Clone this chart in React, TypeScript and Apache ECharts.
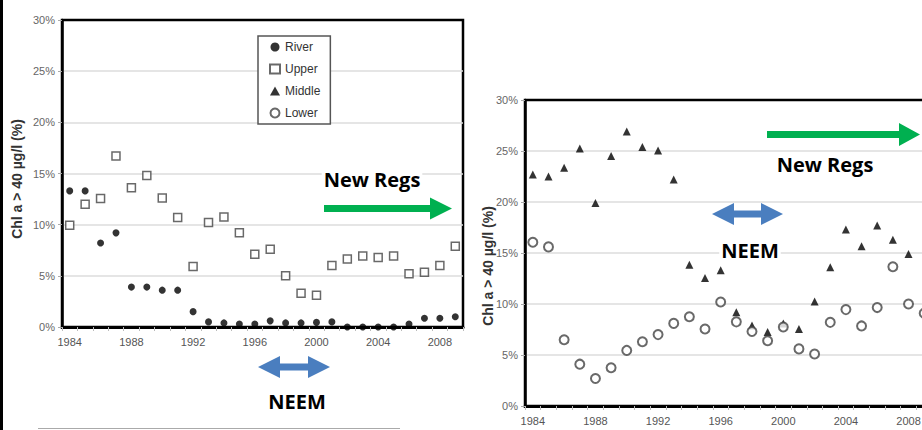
import React, { useEffect, useRef } from "react";
import * as echarts from "echarts";

const years = ["1984","1985","1986","1987","1988","1989","1990","1991","1992","1993","1994","1995","1996","1997","1998","1999","2000","2001","2002","2003","2004","2005","2006","2007","2008","2009"];
const yTicks = [0, 5, 10, 15, 20, 25, 30];

const riverValues = [13.3, 13.3, 8.2, 9.2, 3.9, 3.9, 3.6, 3.6, 1.5, 0.5, 0.4, 0.3, 0.3, 0.6, 0.4, 0.4, 0.45, 0.5, 0, 0, 0, 0, 0.3, 0.85, 0.85, 1.0];
const upperValues = [9.95, 12.0, 12.55, 16.7, 13.6, 14.8, 12.6, 10.7, 5.9, 10.2, 10.75, 9.2, 7.1, 7.6, 5.0, 3.3, 3.1, 6.0, 6.65, 6.95, 6.8, 6.95, 5.2, 5.35, 6.0, 7.9];
const middleValues = [22.7, 22.5, 23.35, 25.25, 19.9, 24.5, 26.9, 25.4, 25.05, 22.2, 13.85, 12.55, 13.3, 9.2, 7.9, 7.25, 8.1, 7.55, 10.25, 13.6, 17.3, 15.65, 17.7, 16.3, 14.9, null];
const lowerValues = [16.05, 15.6, 6.5, 4.1, 2.7, 3.75, 5.45, 6.3, 7.0, 8.1, 8.75, 7.55, 10.2, 8.25, 7.3, 6.4, 7.75, 5.6, 5.1, 8.2, 9.45, 7.85, 9.65, 13.65, 10.0, 9.1];

const seriesNames = ["River", "Upper", "Middle", "Lower"];
const yAxisTitle = "Chl a > 40 µg/l (%)";
const annoNewRegs = "New Regs";
const annoNeem = "NEEM";

const FONT = "'Liberation Sans', Arial, sans-serif";
const BOLD_FONT = "'Open Sans', 'Noto Sans', sans-serif";
const GREEN = "#00b050";
const BLUE = "#4a7ebf";

function rightArrow(x0: number, x1: number, headX: number, cy: number, shaft: number, head: number) {
  return [
    [x0, cy - shaft / 2], [headX, cy - shaft / 2], [headX, cy - head / 2], [x1, cy],
    [headX, cy + head / 2], [headX, cy + shaft / 2], [x0, cy + shaft / 2],
  ];
}
function doubleArrow(x0: number, x1: number, h0: number, h1: number, cy: number, shaft: number, head: number) {
  return [
    [x0, cy], [h0, cy - head / 2], [h0, cy - shaft / 2], [h1, cy - shaft / 2], [h1, cy - head / 2],
    [x1, cy], [h1, cy + head / 2], [h1, cy + shaft / 2], [h0, cy + shaft / 2], [h0, cy + head / 2],
  ];
}

export default function App() {
  const ref = useRef<HTMLDivElement>(null);
  useEffect(() => {
    if (!ref.current) return;
    const chart = echarts.init(ref.current, null, { renderer: "svg" });
    const xAxisBase = (gridIndex: number) => ({
      type: "category",
      gridIndex,
      data: years,
      boundaryGap: true,
      axisLine: { show: true, lineStyle: { color: "#000", width: 3 } },
      axisTick: { show: true, interval: 0, length: 4, lineStyle: { color: "#bbb" } },
      axisLabel: { interval: 3, color: "#555", fontSize: 11, fontFamily: FONT, margin: 9 },
      splitLine: { show: false },
    });
    const yAxisBase = (gridIndex: number) => ({
      type: "value",
      gridIndex,
      min: 0,
      max: 30,
      interval: 5,
      axisLine: { show: true, lineStyle: { color: "#000", width: 2.5 } },
      axisTick: { show: true, length: 4, lineStyle: { color: "#aaa" } },
      axisLabel: { color: "#666", fontSize: 11, fontFamily: FONT, margin: 7, formatter: (v: number) => v + "%" },
      splitLine: { show: true, showMaxLine: false, showMinLine: false, lineStyle: { color: "#dcdcdc", width: 1.5 } },
    });
    const boldText = (x: number, y: number, text: string, align: string) => ({
      type: "text", x, y, z: 10,
      style: {
        text, font: `bold 20px ${BOLD_FONT}`, fill: "#000", verticalAlign: "middle", align,
        backgroundColor: "#fff", padding: [0, 2],
      },
    });
    const graphics: any[] = [
      { type: "rect", shape: { x: 0, y: 0, width: 3, height: 430 }, style: { fill: "#000" } },
      { type: "line", shape: { x1: 38, y1: 428.5, x2: 400, y2: 428.5 }, style: { stroke: "#aaa", lineWidth: 1 } },
      // left panel annotations
      { type: "polygon", shape: { points: rightArrow(324, 452, 430, 208.5, 7, 22) }, style: { fill: GREEN } },
      { type: "polygon", shape: { points: doubleArrow(258, 330, 280, 308, 367, 7, 22) }, style: { fill: BLUE } },
      boldText(372, 179, annoNewRegs, "center"),
      boldText(297, 401, annoNeem, "center"),
      // right panel annotations
      { type: "polygon", shape: { points: rightArrow(767, 920, 899, 134.5, 7, 23) }, style: { fill: GREEN } },
      { type: "polygon", shape: { points: doubleArrow(712, 783, 734, 761, 214, 7, 22) }, style: { fill: BLUE } },
      boldText(825, 164.5, annoNewRegs, "center"),
      boldText(750, 250, annoNeem, "center"),
      // y axis titles
      { type: "text", x: 17, y: 179, rotation: Math.PI / 2, style: { text: yAxisTitle, font: `bold 14px ${FONT}`, fill: "#333", verticalAlign: "middle", align: "center" } },
      { type: "text", x: 488, y: 266, rotation: Math.PI / 2, style: { text: yAxisTitle, font: `bold 14px ${FONT}`, fill: "#333", verticalAlign: "middle", align: "center" } },
    ];
    chart.setOption({
      animation: false,
      backgroundColor: "#fff",
      grid: [
        { left: 62, top: 20, width: 401, height: 307, show: true, borderColor: "#000", borderWidth: 2.5, backgroundColor: "transparent", containLabel: false },
        { left: 525, top: 100, width: 407, height: 306, show: true, borderColor: "#000", borderWidth: 2.5, backgroundColor: "transparent", containLabel: false },
      ],
      xAxis: [xAxisBase(0), xAxisBase(1)],
      yAxis: [yAxisBase(0), yAxisBase(1)],
      legend: {
        data: seriesNames,
        orient: "vertical",
        left: 258,
        top: 36,
        padding: [5, 10, 5, 11],
        itemGap: 10,
        itemWidth: 10,
        itemHeight: 9,
        borderColor: "#555",
        borderWidth: 1.5,
        backgroundColor: "#fff",
        textStyle: { color: "#333", fontSize: 12, fontFamily: FONT },
      },
      series: [
        { name: seriesNames[0], type: "scatter", xAxisIndex: 0, yAxisIndex: 0, data: riverValues, symbol: "circle", symbolSize: 7, itemStyle: { color: "#000" } },
        { name: seriesNames[1], type: "scatter", xAxisIndex: 0, yAxisIndex: 0, data: upperValues, symbol: "rect", symbolSize: 8, itemStyle: { color: "#fff", borderColor: "#444", borderWidth: 1.5 } },
        { name: seriesNames[2], type: "scatter", xAxisIndex: 1, yAxisIndex: 1, data: middleValues, symbol: "triangle", symbolSize: 8, itemStyle: { color: "#000" } },
        { name: seriesNames[3], type: "scatter", xAxisIndex: 1, yAxisIndex: 1, data: lowerValues, symbol: "circle", symbolSize: 9, itemStyle: { color: "#fff", borderColor: "#444", borderWidth: 2 } },
      ],
      graphic: graphics,
    });
    return () => chart.dispose();
  }, []);
  return (
    <div style={{ position: "fixed", left: 0, top: 0, width: 922, height: 430, overflow: "hidden", background: "#fff" }}>
      <div ref={ref} style={{ width: 940, height: 430 }} />
    </div>
  );
}
